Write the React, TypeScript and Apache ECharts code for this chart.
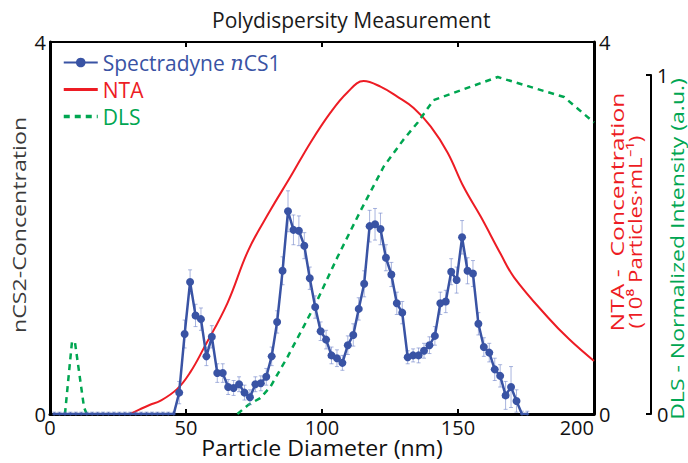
import React, { useEffect, useRef } from "react";
import * as echarts from "echarts";

const FONT = "'Open Sans', sans-serif";
const BLUE = "#3953a4";
const RED = "#ed1c24";
const GREEN = "#00a651";

// Spectradyne nCS1 (particle diameter nm, concentration, error)
const ncsDiameters = [
  1.5, 3.5, 5.5, 7.5, 9.5, 11.5, 13.5, 15.5, 17.5, 19.5, 21.5, 23.5, 25.5, 27.5, 29.5, 31.5,
  33.5, 35.5, 37.5, 39.5, 41.5, 43.5, 45.5, 47.5, 49.5, 51.5, 53.5, 55.5, 57.5, 59.5, 61.5,
  63.5, 65.5, 67.5, 69.5, 71.5, 73.5, 75.5, 77.5, 79.5, 81.5, 83.5, 85.5, 87.5, 89.5, 91.5,
  93.5, 95.5, 97.5, 99.5, 101.5, 103.5, 105.5, 107.5, 109.5, 111.5, 113.5, 115.5, 117.5,
  119.5, 121.5, 123.5, 125.5, 127.5, 129.5, 131.5, 133.5, 135.5, 137.5, 139.5, 141.5, 143.5,
  145.5, 147.5, 149.5, 151.5, 153.5, 155.5, 157.5, 159.5, 161.5, 163.5, 165.5, 167.5, 169.5,
  171.5, 173.5, 175.5,
];
const ncsValues = [
  0, 0, 0, 0, 0, 0, 0, 0, 0, 0, 0, 0, 0, 0, 0, 0, 0, 0, 0, 0, 0, 0, 0,
  0.23, 0.86, 1.42, 1.06, 1.02, 0.62, 0.83, 0.44, 0.44, 0.29, 0.28, 0.32, 0.23, 0.18, 0.32,
  0.33, 0.4, 0.62, 0.99, 1.54, 2.18, 1.98, 1.97, 1.81, 1.46, 1.15, 0.89, 0.8, 0.63, 0.6, 0.55,
  0.74, 0.85, 1.13, 1.4, 2.02, 2.04, 1.99, 1.68, 1.5, 1.19, 1.09, 0.61, 0.63, 0.63, 0.68,
  0.74, 0.84, 1.19, 1.21, 1.53, 1.44, 1.9, 1.54, 1.51, 0.97, 0.72, 0.66, 0.48, 0.41, 0.2,
  0.29, 0.14, 0, 0,
];
const ncsErrors = [
  0.02, 0.02, 0.02, 0.02, 0.02, 0.02, 0.02, 0.02, 0.02, 0.02, 0.02, 0.02, 0.02, 0.02, 0.02,
  0.02, 0.02, 0.02, 0.02, 0.02, 0.02, 0.02, 0.02,
  0.12, 0.15, 0.13, 0.12, 0.12, 0.1, 0.12, 0.1, 0.1, 0.08, 0.08, 0.08, 0.08, 0.08, 0.08,
  0.08, 0.09, 0.1, 0.12, 0.15, 0.22, 0.16, 0.16, 0.14, 0.12, 0.12, 0.1, 0.1, 0.09, 0.09,
  0.08, 0.1, 0.12, 0.12, 0.14, 0.17, 0.17, 0.17, 0.14, 0.13, 0.12, 0.12, 0.07, 0.07, 0.08,
  0.08, 0.09, 0.1, 0.12, 0.12, 0.14, 0.14, 0.18, 0.14, 0.14, 0.12, 0.1, 0.1, 0.12, 0.12,
  0.15, 0.22, 0.12, 0.03, 0.03,
];

// NTA (diameter nm, 10^8 particles/mL)
const ntaDiameters = [
  29.5, 33, 36.8, 40.5, 46.8, 51.6, 56.4, 65.2, 72.9, 81, 88.4, 95.8, 103.1, 109.4, 115.3,
  121.5, 127.8, 133.7, 140, 146.2, 152.1, 158.4, 165.7, 170.6, 183, 191, 200,
];
const ntaValues = [
  0, 0.05, 0.1, 0.14, 0.27, 0.45, 0.7, 1.19, 1.76, 2.19, 2.55, 2.92, 3.24, 3.46, 3.58, 3.52,
  3.41, 3.29, 3.09, 2.81, 2.44, 2.12, 1.72, 1.47, 1.04, 0.8, 0.57,
];

// DLS (diameter nm, normalized intensity)
const dlsDiameters = [
  5.5, 8.1, 9.2, 12.5, 13.5, 14, 68.9, 72.9, 77.3, 81, 87.3, 93.2, 98.3, 105.7, 114.2, 122.7,
  130, 135.2, 141, 164.6, 189, 200,
];
const dlsValues = [
  0, 0.215, 0.21, 0.02, 0, null, 0, 0.027, 0.047, 0.08, 0.168, 0.257, 0.336, 0.463, 0.6, 0.73,
  0.81, 0.86, 0.926, 0.994, 0.935, 0.86,
];

const xTicks = { min: 0, max: 200, interval: 50 };

export default function App() {
  const ref = useRef<HTMLDivElement>(null);

  useEffect(() => {
    if (!ref.current) return;
    const chart = echarts.init(ref.current, null, { renderer: "svg" });

    const ncsData = ncsDiameters.map((d, i) => [d, ncsValues[i]]);
    const errData = ncsDiameters.map((d, i) => [d, ncsValues[i], ncsErrors[i]]);
    const ntaData = ntaDiameters.map((d, i) => [d, ntaValues[i]]);
    const dlsData = dlsDiameters.map((d, i) => [d, dlsValues[i]]);

    const grid = { left: 50, right: 94, bottom: 49, outerBoundsMode: "none", containLabel: false };

    const rotText = (text: string, x: number, y: number, color: string, sx: number, size = 19) => ({
      type: "text",
      x,
      y,
      rotation: Math.PI / 2,
      scaleX: sx,
      style: {
        text,
        fill: color,
        font: `${size}px ${FONT}`,
        align: "center",
        verticalAlign: "middle",
      },
    });

    chart.setOption({
      animation: false,
      backgroundColor: "#fff",
      textStyle: { fontFamily: FONT },
      title: {
        text: "Polydispersity Measurement",
        left: 207,
        top: 4,
        textStyle: { fontSize: 21, fontWeight: "normal", color: "#1a1a1a", fontFamily: FONT },
      },
      legend: {
        orient: "vertical",
        left: 57,
        top: 47,
        itemWidth: 34,
        itemHeight: 12,
        itemGap: 6,
        textStyle: {
          fontSize: 21,
          fontFamily: FONT,
          rich: {
            i: { fontStyle: "italic", fontFamily: "'DejaVu Serif', serif", fontSize: 21, color: BLUE },
          },
        },
        formatter: (name: string) =>
          name === "Spectradyne nCS1" ? "Spectradyne {i|n}CS1" : name,
        data: [
          { name: "Spectradyne nCS1", textStyle: { color: BLUE } },
          {
            name: "NTA",
            textStyle: { color: RED },
            itemStyle: { opacity: 0 },
            lineStyle: { width: 3 },
          },
          {
            name: "DLS",
            textStyle: { color: GREEN },
            itemStyle: { opacity: 0 },
            lineStyle: { width: 3.5 },
          },
        ],
      },
      grid: [
        { ...grid, top: 42 },
        { ...grid, top: 75 },
      ],
      xAxis: [
        {
          gridIndex: 0,
          type: "value",
          ...xTicks,
          position: "bottom",
          axisLine: { show: true, onZero: false, lineStyle: { color: "#000", width: 3 } },
          axisTick: { show: true, inside: true, length: 5, lineStyle: { color: "#000", width: 2 } },
          axisLabel: {
            fontSize: 20,
            color: "#111",
            margin: 3,
            fontFamily: FONT,
            alignMaxLabel: "right",
          },
          splitLine: { show: false },
        },
        {
          gridIndex: 0,
          type: "value",
          ...xTicks,
          position: "top",
          axisLine: { show: true, onZero: false, lineStyle: { color: "#000", width: 2 } },
          axisTick: { show: true, inside: true, length: 5, lineStyle: { color: "#000", width: 2 } },
          axisLabel: { show: false },
          splitLine: { show: false },
        },
        { gridIndex: 1, type: "value", ...xTicks, show: false, axisLine: { onZero: false } },
      ],
      yAxis: [
        {
          gridIndex: 0,
          type: "value",
          min: 0,
          max: 4,
          interval: 4,
          position: "left",
          axisLine: { show: true, onZero: false, lineStyle: { color: "#000", width: 3 } },
          axisTick: { show: false },
          axisLabel: { fontSize: 20, color: "#111", margin: 4, fontFamily: FONT },
          splitLine: { show: false },
        },
        {
          gridIndex: 0,
          type: "value",
          min: 0,
          max: 4,
          interval: 4,
          position: "right",
          axisLine: { show: true, onZero: false, lineStyle: { color: "#000", width: 3 } },
          axisTick: { show: false },
          axisLabel: { fontSize: 20, color: "#111", margin: 5, fontFamily: FONT },
          splitLine: { show: false },
        },
        {
          gridIndex: 1,
          type: "value",
          min: 0,
          max: 1,
          interval: 1,
          position: "right",
          offset: 57,
          axisLine: { show: true, onZero: false, lineStyle: { color: "#000", width: 2 } },
          axisTick: { show: true, inside: true, length: 5, lineStyle: { color: "#000", width: 2 } },
          axisLabel: { fontSize: 20, color: "#111", margin: 6, fontFamily: FONT },
          splitLine: { show: false },
        },
      ],
      graphic: [
        {
          type: "text",
          x: 322,
          y: 447,
          scaleX: 1.1,
          style: {
            text: "Particle Diameter (nm)",
            fill: "#111",
            font: `21px ${FONT}`,
            align: "center",
            verticalAlign: "middle",
          },
        },
        rotText("nCS2-Concentration", 18, 225, "#3a3a3a", 1.22),
        rotText("NTA -  Concentration", 616, 212, RED, 1.3),
        rotText("(10⁸ Particles·mL⁻¹)", 635, 232, RED, 1.17),
        rotText("DLS - Normalized Intensity (a.u.)", 677, 249, GREEN, 1.28, 18),
      ],
      series: [
        {
          name: "NTA",
          type: "line",
          xAxisIndex: 0,
          yAxisIndex: 1,
          data: ntaData,
          smooth: 0.4,
          showSymbol: false,
          symbol: "none",
          lineStyle: { color: RED, width: 2 },
          itemStyle: { color: RED },
          z: 2,
        },
        {
          name: "DLS",
          type: "line",
          xAxisIndex: 2,
          yAxisIndex: 2,
          data: dlsData,
          connectNulls: false,
          showSymbol: false,
          symbol: "none",
          lineStyle: { color: GREEN, width: 2.5, type: [6, 5] },
          itemStyle: { color: GREEN },
          z: 3,
        },
        {
          name: "errors",
          type: "custom",
          xAxisIndex: 0,
          yAxisIndex: 0,
          data: errData,
          encode: { x: 0, y: 1 },
          z: 4,
          renderItem: (_params: any, api: any) => {
            const x = api.value(0);
            const y = api.value(1);
            const e = api.value(2);
            const top = api.coord([x, y + e]);
            const bot = api.coord([x, Math.max(0, y - e)]);
            const style = { stroke: "rgba(110,130,200,0.6)", lineWidth: 1 };
            const c = 2;
            return {
              type: "group",
              children: [
                { type: "line", shape: { x1: top[0], y1: top[1], x2: bot[0], y2: bot[1] }, style },
                { type: "line", shape: { x1: top[0] - c, y1: top[1], x2: top[0] + c, y2: top[1] }, style },
                { type: "line", shape: { x1: bot[0] - c, y1: bot[1], x2: bot[0] + c, y2: bot[1] }, style },
              ],
            };
          },
        },
        {
          name: "Spectradyne nCS1",
          type: "line",
          xAxisIndex: 0,
          yAxisIndex: 0,
          data: ncsData,
          symbol: "circle",
          symbolSize: (v: number[]) => (v[1] === 0 ? 3 : 8),
          lineStyle: { color: BLUE, width: 2.5 },
          itemStyle: { color: BLUE },
          z: 5,
        },
      ],
    });

    return () => chart.dispose();
  }, []);

  return (
    <div
      ref={ref}
      style={{ position: "absolute", left: 0, top: 0, width: 688, height: 463 }}
    />
  );
}
